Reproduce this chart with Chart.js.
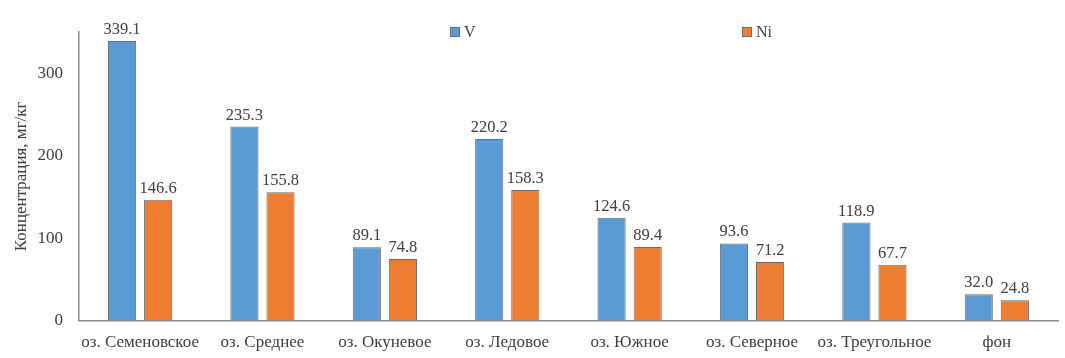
<!DOCTYPE html>
<html lang="ru">

<head>
  <meta charset="UTF-8">
  <title>V и Ni</title>
  <style>
    body { margin: 0; background: #fff; }
    #wrap { width: 1065px; height: 358px; }
  </style>
</head>

<body>
  <div id="wrap">
    <canvas id="myChart" width="1065" height="358"></canvas>
  </div>

  <script src="https://cdn.jsdelivr.net/npm/chart.js"></script>

  <script>
    const lakes = ['оз. Семеновское', 'оз. Среднее', 'оз. Окуневое', 'оз. Ледовое',
      'оз. Южное', 'оз. Северное', 'оз. Треугольное', 'фон'];
    const vValues = [339.1, 235.3, 89.1, 220.2, 124.6, 93.6, 118.9, 32.0];
    const niValues = [146.6, 155.8, 74.8, 158.3, 89.4, 71.2, 67.7, 24.8];
    const yTicks = [0, 100, 200, 300];

    const textColor = '#404040';
    const serif = '"Liberation Serif", "DejaVu Serif", serif';

    // value above every bar
    const barLabels = {
      id: 'barLabels',
      afterDatasetsDraw(chart) {
        const ctx = chart.ctx;
        ctx.save();
        ctx.font = '16.5px ' + serif;
        ctx.fillStyle = textColor;
        ctx.textAlign = 'center';
        ctx.textBaseline = 'alphabetic';
        chart.data.datasets.forEach((ds, i) => {
          chart.getDatasetMeta(i).data.forEach((bar, j) => {
            ctx.fillText(ds.data[j].toFixed(1), bar.x, bar.y - 7);
          });
        });
        ctx.restore();
      }
    };

    // legend spread over the top of the plot like in the original
    const spreadLegend = {
      id: 'spreadLegend',
      afterDraw(chart, args, opts) {
        const { ctx, chartArea } = chart;
        const w = chartArea.right - chartArea.left;
        ctx.save();
        ctx.font = '16px ' + serif;
        ctx.textBaseline = 'middle';
        ctx.textAlign = 'left';
        chart.data.datasets.forEach((ds, i) => {
          const x = Math.round(chartArea.left + opts.spots[i] * w);
          const y = opts.y;
          ctx.fillStyle = ds.backgroundColor;
          ctx.fillRect(x, y - 5, 10, 10);
          ctx.strokeStyle = ds.borderColor;
          ctx.lineWidth = 1;
          ctx.strokeRect(x + 0.5, y - 4.5, 9, 9);
          ctx.fillStyle = textColor;
          ctx.fillText(ds.label, x + 14, y + 1);
        });
        ctx.restore();
      }
    };

    new Chart(document.getElementById('myChart'), {
      type: 'bar',
      data: {
        labels: lakes,
        datasets: [{
          label: 'V',
          data: vValues,
          backgroundColor: '#5b9bd5',
          borderColor: '#6e6e6e',
          borderWidth: 1
        }, {
          label: 'Ni',
          data: niValues,
          backgroundColor: '#ed7d31',
          borderColor: '#6e6e6e',
          borderWidth: 1
        }]
      },
      options: {
        responsive: false,
        animation: false,
        categoryPercentage: 0.59,
        barPercentage: 0.78,
        // tick padding is counted twice in the axis size, hence the negative values
        layout: { autoPadding: false, padding: { top: 32, right: 7, left: 11, bottom: -7 } },
        plugins: {
          legend: { display: false },
          tooltip: { enabled: false },
          spreadLegend: { spots: [0.379, 0.677], y: 32 }
        },
        scales: {
          x: {
            grid: { display: false, drawTicks: false },
            border: { display: true, color: '#8c8c8c', width: 1.5 },
            ticks: { color: textColor, font: { family: serif, size: 17 }, padding: 12, maxRotation: 0, autoSkip: false }
          },
          y: {
            min: 0,
            max: 350,
            grid: { display: false, drawTicks: false },
            border: { display: true, color: '#8c8c8c', width: 1.5 },
            afterBuildTicks: axis => { axis.ticks = yTicks.map(v => ({ value: v })); },
            ticks: { color: textColor, font: { family: serif, size: 17 }, padding: 16 },
            title: {
              display: true,
              text: 'Концентрация, мг/кг',
              color: textColor,
              font: { family: serif, size: 17 },
              padding: { top: 0, bottom: -10 }
            }
          }
        }
      },
      plugins: [barLabels, spreadLegend]
    });
  </script>
</body>

</html>
